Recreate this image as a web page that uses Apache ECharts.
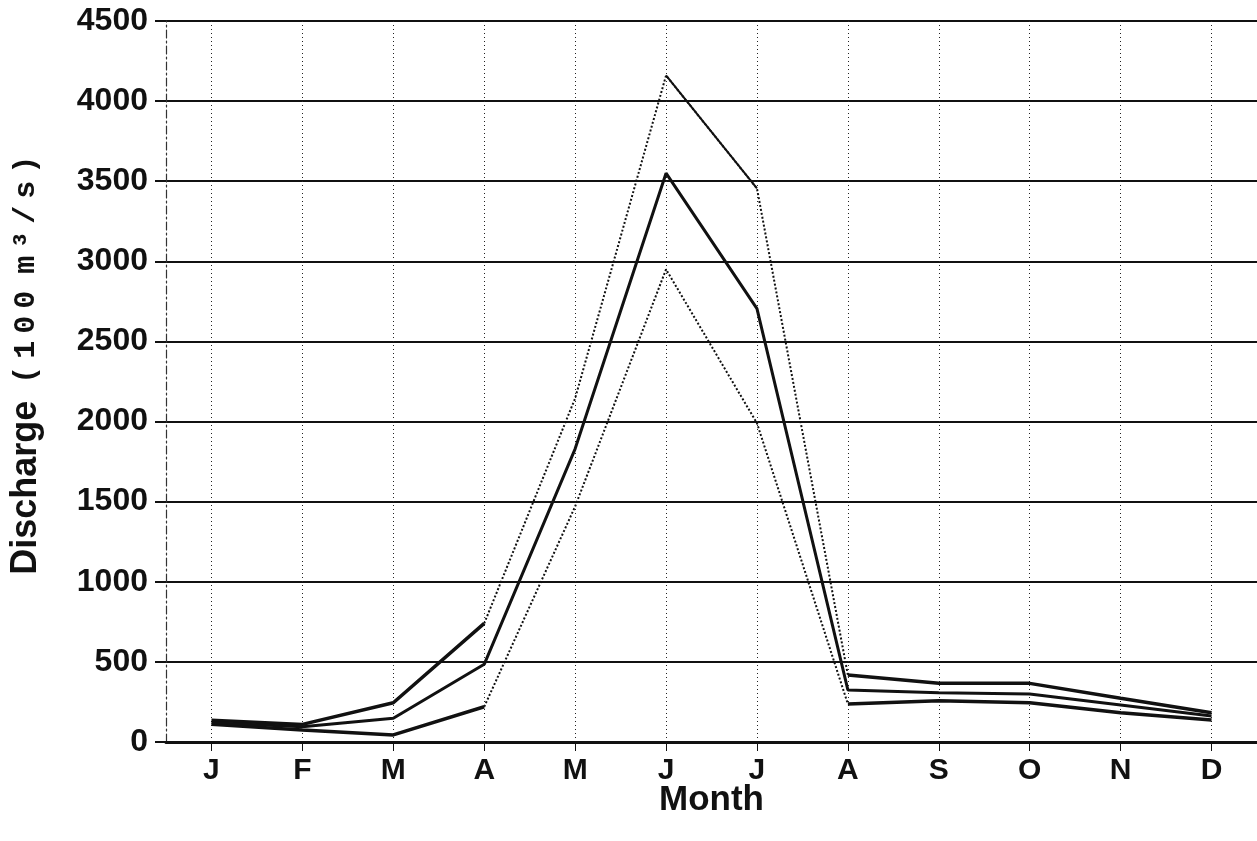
<!DOCTYPE html>
<html>
<head>
<meta charset="utf-8">
<script src="https://cdn.jsdelivr.net/npm/echarts@6/dist/echarts.min.js"></script>
<style>
html,body{margin:0;padding:0;background:#fff;}
#c{width:1257px;height:841px;}
</style>
</head>
<body>
<div id="c"></div>
<script>
// ---- data ----
const months = ['J','F','M','A','M','J','J','A','S','O','N','D'];
const upper = [135, 110, 245, 740, 2145, 4160, 3455, 418, 366, 366, 273, 183];
const mean  = [120,  95, 148, 485, 1830, 3550, 2705, 325, 308, 300, 231, 162];
const lower = [110,  75,  44, 220, 1470, 2950, 1990, 237, 258, 245, 183, 137];
const yTicks = [0, 500, 1000, 1500, 2000, 2500, 3000, 3500, 4000, 4500];

// keep only the points in the given index ranges (for segment line styles)
function pick(arr, ranges) {
  return arr.map((v, i) => ranges.some(r => i >= r[0] && i <= r[1]) ? v : null);
}

const INK = '#111';
const chart = echarts.init(document.getElementById('c'), null, {renderer: 'canvas'});

function lineSeries(data, width, type) {
  return {
    type: 'line', data: data, symbol: 'none', silent: true,
    connectNulls: false, animation: false,
    lineStyle: {color: INK, width: width, type: type}
  };
}

chart.setOption({
  backgroundColor: '#fff',
  animation: false,
  grid: {left: 166, right: 0, top: 21, bottom: 99, containLabel: false},
  xAxis: {
    type: 'category',
    data: months,
    boundaryGap: true,
    name: 'Month',
    nameLocation: 'middle',
    nameGap: 41,
    nameMoveOverlap: false,
    nameTextStyle: {fontFamily: 'Liberation Sans', fontWeight: 'bold', fontSize: 35, color: INK},
    axisLine: {show: true, onZero: false, lineStyle: {color: INK, width: 3}},
    axisTick: {show: true, alignWithLabel: true, length: 9, lineStyle: {color: INK, width: 1}},
    axisLabel: {margin: 14, fontFamily: 'Liberation Sans', fontWeight: 'bold', fontSize: 30, color: INK},
    splitLine: {show: true, alignWithLabel: true, lineStyle: {color: '#222', width: 1, type: [1, 3]}}
  },
  yAxis: {
    type: 'value',
    min: 0, max: 4500, interval: 500,
    name: '{p|}{a|Discharge} {g|}{m|(}{m|1}{m|0}{m|0}{g|}{m|m}{m|³}{m|/}{m|s}{m|)}',
    nameLocation: 'middle',
    nameGap: 122,
    nameRotate: 90,
    nameMoveOverlap: false,
    nameTextStyle: {
      color: INK,
      rich: {
        p: {width: 36},
        a: {fontFamily: 'Liberation Sans', fontWeight: 'bold', fontSize: 36, color: INK},
        m: {fontFamily: 'Liberation Mono', fontWeight: 'bold', fontSize: 30, color: INK, width: 25, align: 'center'},
        g: {width: 10}
      }
    },
    axisLine: {show: true, lineStyle: {color: '#333', width: 1.2, type: [8, 3, 2, 3]}},
    axisTick: {show: true, length: 11, lineStyle: {color: INK, width: 2}},
    axisLabel: {
      margin: 18, fontFamily: 'Liberation Sans', fontWeight: 'bold', fontSize: 32, color: INK,
      formatter: v => yTicks.indexOf(v) >= 0 ? String(v) : ''
    },
    splitLine: {show: true, lineStyle: {color: INK, width: 2}}
  },
  series: [
    lineSeries(pick(upper, [[3, 7]]), 2, [2, 2]),
    lineSeries(pick(lower, [[3, 7]]), 2, [2, 2]),
    lineSeries(pick(upper, [[0, 3], [7, 11]]), 3.5, 'solid'),
    lineSeries(pick(upper, [[5, 6]]), 2, 'solid'),
    lineSeries(pick(lower, [[0, 3], [7, 11]]), 3.5, 'solid'),
    lineSeries(mean, 3, 'solid')
  ]
});
</script>
</body>
</html>
